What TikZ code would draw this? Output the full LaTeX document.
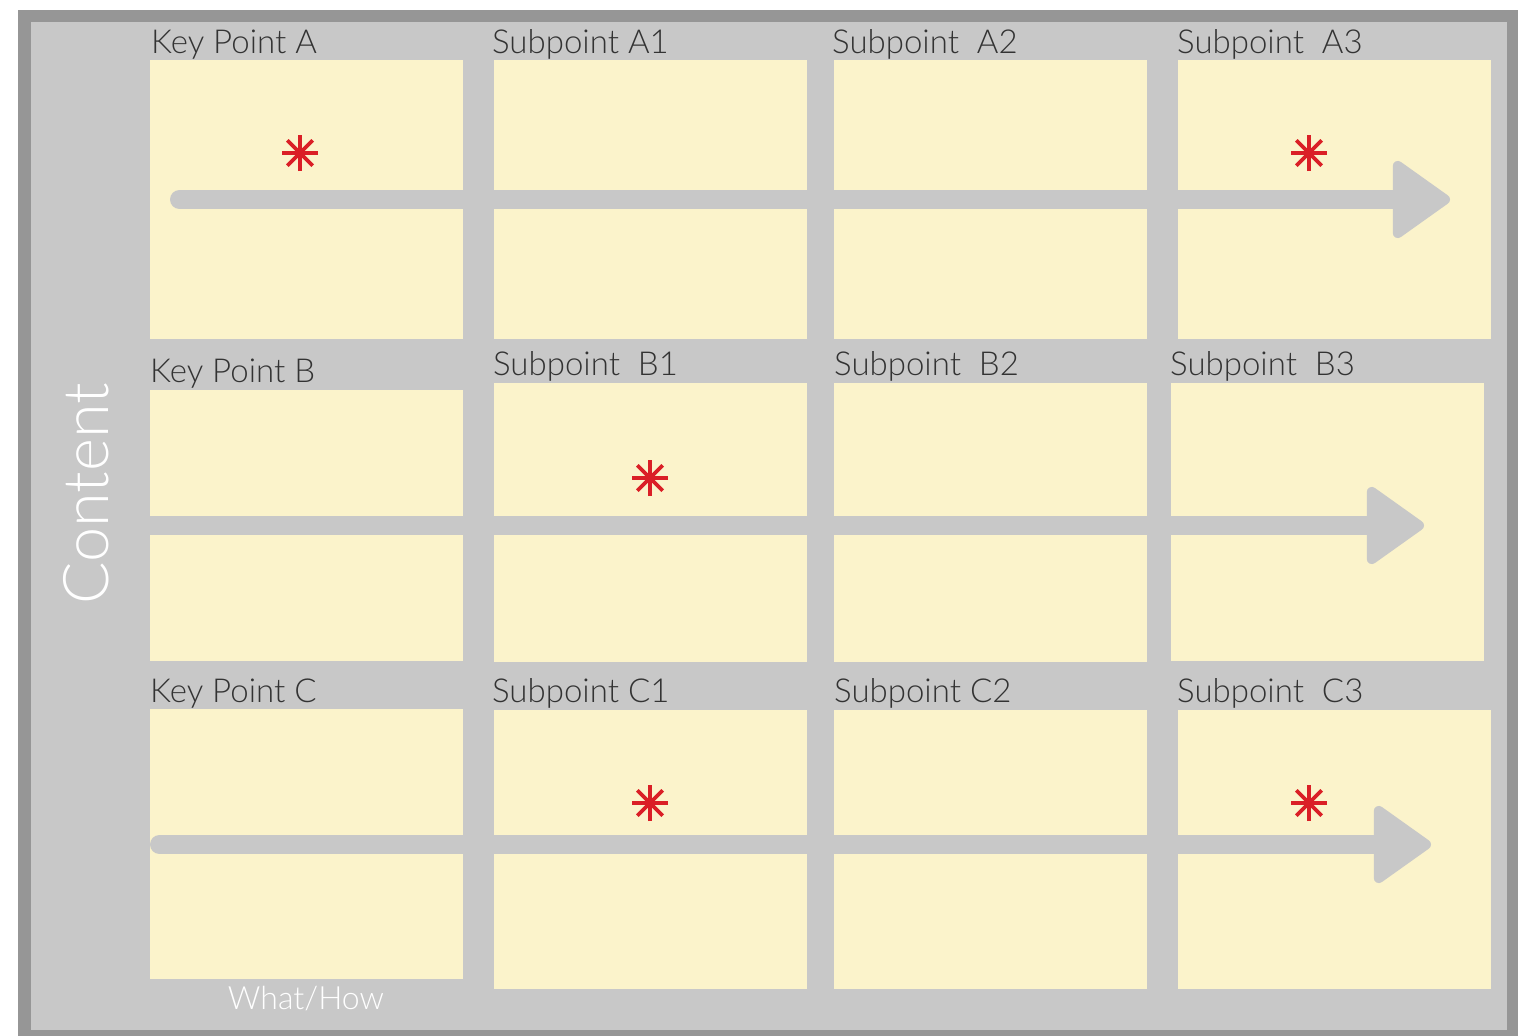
\documentclass[tikz,border=0pt]{standalone}
\usepackage{fontspec}
\setmainfont{Lato}[UprightFont=* Light]
\usetikzlibrary{positioning,arrows.meta}
\definecolor{gridFrame}{HTML}{969696}
\definecolor{gridBack}{HTML}{C8C8C8}
\definecolor{gridCell}{HTML}{FBF3CB}
\definecolor{gridText}{HTML}{333333}
\definecolor{gridStar}{HTML}{DA1F26}
\tikzset{
  grid cell/.style={
    rectangle, fill=gridCell, anchor=north west, inner sep=0pt,
    minimum width=313pt, minimum height=279pt,
  },
  grid label/.style={
    anchor=base west, inner sep=0pt, text=gridText,
    font=\fontsize{33}{33}\selectfont,
  },
  flow arrow/.style={
    -{Triangle[length=61pt, width=84pt, line width=10pt, round]},
    line width=19pt, color=gridBack, line cap=round,
  },
  star line/.style={line width=3.6pt, color=gridStar},
  star mark/.pic={
    \foreach \ang in {0,45,90,135}
      \draw[star line] (\ang:18) -- (\ang+180:18);
  },
}

\begin{document}
\begin{tikzpicture}[x=1pt, y=-1pt]
\useasboundingbox (0,0) rectangle (1518,1036);

% --- FRAME ---
\fill[gridFrame] (18,10) rectangle (1518,1036);
\fill[gridBack] (31,22) rectangle (1507,1030);

% --- CELLS ---
\node[grid cell] (kpA)  at (150,60) {};
\node[grid cell] (spA1) at (494,60) {};
\node[grid cell] (spA2) at (834,60) {};
\node[grid cell] (spA3) at (1178,60) {};

\node[grid cell, minimum height=271pt] (kpB) at (150,390) {};
\node[grid cell] (spB1) at (494,383) {};
\node[grid cell] (spB2) at (834,383) {};
\node[grid cell, minimum height=278pt] (spB3) at (1171,383) {};

\node[grid cell, minimum height=270pt] (kpC) at (150,709) {};
\node[grid cell] (spC1) at (494,710) {};
\node[grid cell] (spC2) at (834,710) {};
\node[grid cell] (spC3) at (1178,710) {};

% --- LABELS ---
\node[grid label] (lkpA)  at (151,53) {Key Point A};
\node[grid label] (lspA1) at (492,53) {Subpoint A1};
\node[grid label] (lspA2) at (832,53) {Subpoint\ \ A2};
\node[grid label] (lspA3) at (1177,53) {Subpoint\ \ A3};

\node[grid label] (lkpB)  at (150,382) {Key Point B};
\node[grid label] (lspB1) at (493,375) {Subpoint\ \ B1};
\node[grid label] (lspB2) at (834,375) {Subpoint\ \ B2};
\node[grid label] (lspB3) at (1170,375) {Subpoint\ \ B3};

\node[grid label] (lkpC)  at (150,702) {Key Point C};
\node[grid label] (lspC1) at (492,702) {Subpoint C1};
\node[grid label] (lspC2) at (834,702) {Subpoint C2};
\node[grid label] (lspC3) at (1177,702) {Subpoint\ \ C3};

% --- AXIS TEXTS ---
\node[rotate=90, text=white, inner sep=0pt,
  font=\fontsize{63}{63}\selectfont] (axContent) at (86.5,494) {Content};
\node[anchor=base, text=white, inner sep=0pt,
  font=\fontsize{32}{32}\selectfont] (axWhat) at (306,1009) {What/How};

% --- ARROWS ---
\coordinate (aStart) at (179.5,199.5);
\coordinate (aEnd)   at (1450,199.5);
\coordinate (bStart) at (140,525.5);
\coordinate (bEnd)   at (1424,525.5);
\coordinate (cStart) at (159.5,844.5);
\coordinate (cEnd)   at (1431,844.5);
\draw[flow arrow] (aStart) -- (aEnd);
\draw[flow arrow] (bStart) -- (bEnd);
\draw[flow arrow] (cStart) -- (cEnd);

% --- STARS ---
\pic at (300,153) {star mark};
\pic at (1309,153) {star mark};
\pic at (650,478) {star mark};
\pic at (650,803) {star mark};
\pic at (1309,803) {star mark};

\end{tikzpicture}
\end{document}
